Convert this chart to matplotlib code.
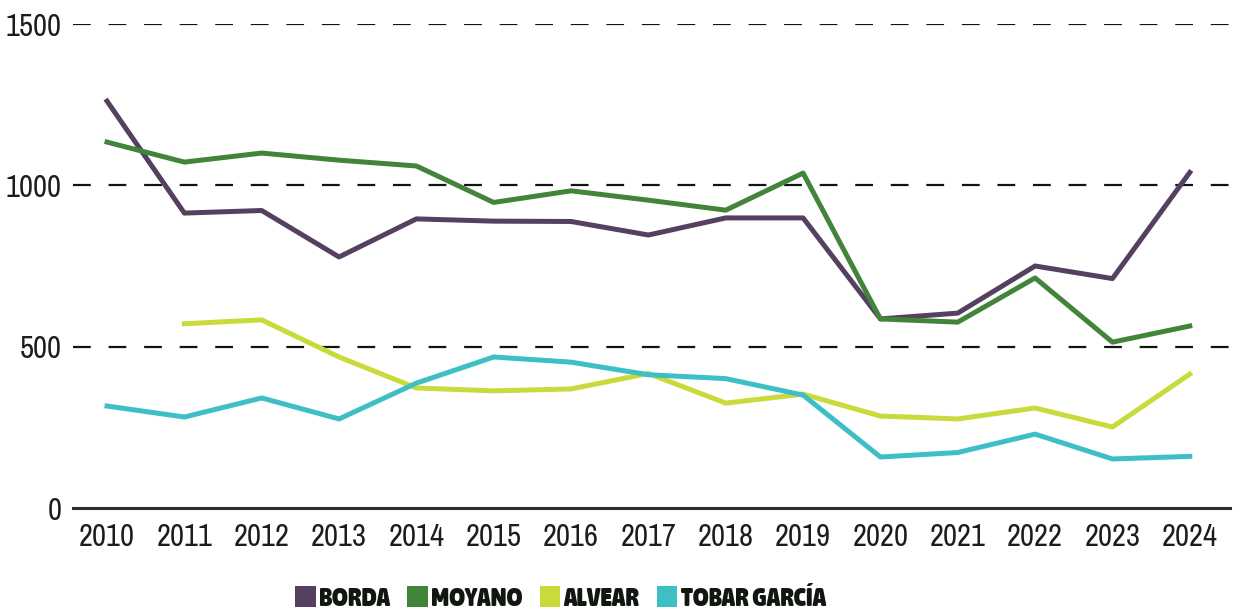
import matplotlib
matplotlib.use("Agg")
import matplotlib.pyplot as plt
from matplotlib.patches import Patch
from matplotlib import font_manager
from matplotlib.font_manager import FontProperties

years = [2010, 2011, 2012, 2013, 2014, 2015, 2016, 2017, 2018, 2019, 2020, 2021, 2022, 2023, 2024]
borda = [1261, 914, 922, 778, 896, 889, 888, 846, 899, 899, 586, 604, 750, 711, 1040]
moyano = [1134, 1072, 1100, 1078, 1060, 947, 983, 954, 923, 1038, 586, 576, 713, 514, 564]
alvear_years = years[1:]
alvear = [571, 583, 468, 372, 363, 369, 417, 325, 353, 285, 276, 310, 251, 415]
tobar = [316, 282, 341, 276, 387, 468, 452, 413, 401, 350, 158, 172, 229, 152, 160]

series_names = ["BORDA", "MOYANO", "ALVEAR", "TOBAR GARCÍA"]
colors = ["#55405f", "#43843b", "#c9da3b", "#3ebfc6"]
yticks = [0, 500, 1000, 1500]


def weight_num(w):
    if isinstance(w, (int, float)):
        return w
    table = {"ultralight": 100, "light": 300, "normal": 400, "regular": 400, "book": 400,
             "medium": 500, "roman": 400, "semibold": 600, "demibold": 600, "demi": 600,
             "bold": 700, "heavy": 800, "extra bold": 800, "black": 900}
    return table.get(str(w).lower(), 400)


def name_cond(f):
    return ("Narrow" in f.name) or ("Condensed" in f.name and "Semi" not in f.name)


def stretch_cond(f):
    st = f.stretch
    if isinstance(st, str):
        return st in ("condensed", "extra-condensed", "ultra-condensed")
    return isinstance(st, (int, float)) and st <= 300


ttf = font_manager.fontManager.ttflist
first_name = None
for f in ttf:
    if "Narrow" in f.name or "Condensed" in f.name:
        first_name = f.name
        break

conds = [f for f in ttf if (name_cond(f) or stretch_cond(f)) and f.style == "normal"]
bold = sorted([f for f in conds if weight_num(f.weight) >= 700], key=lambda f: -weight_num(f.weight))

if first_name is not None:
    tick_fp = FontProperties(family=[first_name, "DejaVu Sans"], size=22)
else:
    tick_fp = FontProperties(family="DejaVu Sans", size=16.5)
if bold:
    leg_fp = FontProperties(fname=bold[0].fname, size=19.5)
else:
    leg_fp = FontProperties(family="DejaVu Sans", weight="bold", size=15)

fig = plt.figure(figsize=(12.4, 6.1), dpi=100)
ax = fig.add_axes([73 / 1240, 1 - 508 / 610, (1230 - 73) / 1240, (508 - 24) / 610])

for y in yticks[1:]:
    ax.axhline(y, color="#111511", lw=1.6, dashes=(8, 8), zorder=1)

ax.plot(years, borda, color=colors[0], lw=3.6, zorder=3)
ax.plot(years, moyano, color=colors[1], lw=3.6, zorder=3)
ax.plot(alvear_years, alvear, color=colors[2], lw=3.6, zorder=3)
ax.plot(years, tobar, color=colors[3], lw=3.6, zorder=3)

ax.set_xlim(2009.56, 2024.52)
ax.set_ylim(0, 1500)
ax.set_xticks(years)
ax.set_xticklabels([str(y) for y in years])
ax.set_yticks(yticks)
ax.set_yticklabels([str(y) for y in yticks])
for lab in ax.get_xticklabels() + ax.get_yticklabels():
    lab.set_fontproperties(tick_fp)
    lab.set_color("#1a1f1a")

for s in ["top", "right", "left"]:
    ax.spines[s].set_visible(False)
ax.spines["bottom"].set_color("#2b2e30")
ax.spines["bottom"].set_linewidth(2.2)
ax.spines["bottom"].set_zorder(2)

ax.tick_params(axis="both", length=0)
ax.tick_params(axis="x", pad=11)
ax.tick_params(axis="y", pad=8)

handles = [Patch(facecolor=c, edgecolor="none") for c in colors]
leg = fig.legend(handles, series_names, loc="lower center", bbox_to_anchor=(0.452, -0.03),
                 ncol=4, frameon=False, handlelength=0.75, handleheight=0.85,
                 handletextpad=0.12, columnspacing=0.65, borderpad=0.15, prop=leg_fp)
for t in leg.get_texts():
    t.set_color("#111611")

fig.savefig("out.png", dpi=100)
